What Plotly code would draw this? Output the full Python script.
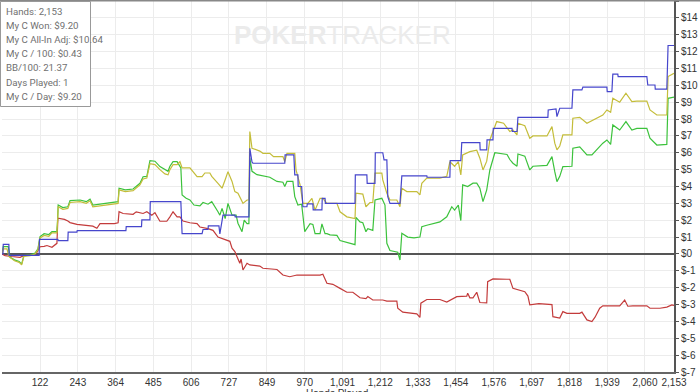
import plotly.graph_objects as go

# ---------------- data ----------------
blue_hands = [0, 3, 4, 22, 23, 119, 120, 179, 180, 211, 212, 240, 241, 397, 398, 447, 448, 474, 475, 573,
              577, 641, 644, 660, 661, 695, 698, 708, 746, 747, 791, 794, 801, 804, 906, 907, 935, 938, 948,
              949, 960, 964, 977, 978, 996, 997, 1025, 1026, 1035, 1036, 1131, 1132, 1169, 1170, 1195, 1196,
              1220, 1224, 1233, 1236, 1243, 1275, 1281, 1361, 1362, 1435, 1436, 1470, 1473, 1531, 1532, 1553,
              1554, 1573, 1574, 1634, 1635, 1650, 1653, 1749, 1750, 1775, 1778, 1787, 1826, 1829, 1858, 1861,
              1938, 1939, 1954, 1957, 1973, 1974, 2066, 2069, 2092, 2093, 2130, 2134, 2153]
blue_vals = [0, 0, 0.57, 0.57, -0.08, -0.08, 0.87, 0.87, 0.79, 0.79, 1.29, 1.29, 1.38, 1.38, 1.62, 1.62, 2.02,
             2.02, 3.1, 3.1, 1.2, 1.2, 1.45, 1.45, 1.66, 1.66, 1.19, 2.3, 2.3, 2.2, 2.2, 6.27, 5.45, 5.38, 5.38,
             5.87, 5.87, 4.69, 4.69, 4.0, 4.0, 2.8, 2.8, 2.97, 2.97, 2.61, 2.61, 3.3, 3.3, 3.0, 3.0, 4.69, 4.69,
             4.19, 4.19, 6.0, 6.0, 5.58, 5.58, 3.4, 3.0, 3.0, 4.63, 4.63, 4.55, 4.55, 5.53, 5.53, 6.6, 6.6,
             6.17, 6.17, 6.76, 6.76, 7.45, 7.45, 7.26, 7.26, 8.1, 8.1, 8.54, 8.6, 8.14, 8.64, 8.64, 9.73, 9.73,
             9.89, 9.89, 9.63, 9.63, 10.66, 10.66, 10.52, 10.52, 10.02, 10.02, 9.77, 9.77, 12.36, 12.36]

green_hands = [0, 4, 20, 26, 40, 55, 63, 70, 90, 106, 115, 122, 135, 150, 160, 176, 178, 180, 195, 211, 218,
               250, 270, 282, 291, 314, 346, 372, 375, 395, 420, 442, 452, 464, 474, 490, 506, 522, 532, 538,
               548, 561, 570, 573, 577, 590, 602, 615, 634, 644, 660, 672, 692, 698, 705, 715, 724, 737, 750,
               756, 769, 776, 785, 791, 794, 801, 817, 858, 881, 900, 906, 913, 932, 938, 948, 960, 970, 987,
               996, 1003, 1019, 1025, 1035, 1041, 1051, 1073, 1083, 1100, 1115, 1131, 1134, 1147, 1156, 1166,
               1172, 1188, 1195, 1217, 1227, 1233, 1243, 1259, 1268, 1275, 1281, 1300, 1320, 1339, 1345, 1361,
               1403, 1425, 1441, 1450, 1462, 1470, 1476, 1492, 1509, 1521, 1531, 1541, 1553, 1563, 1579, 1618,
               1627, 1637, 1650, 1653, 1675, 1691, 1701, 1746, 1762, 1771, 1778, 1787, 1797, 1826, 1829, 1851,
               1874, 1890, 1906, 1925, 1938, 1950, 1957, 1979, 1999, 2018, 2034, 2066, 2076, 2098, 2130, 2134,
               2153]
green_vals = [0, 0.43, 0.43, -0.2, -0.35, -0.45, -0.6, -0.1, -0.05, 0.05, 0.3, 1.03, 1.2, 1.15, 1.32, 1.32,
              2.0, 2.9, 2.75, 2.8, 3.16, 3.2, 3.1, 3.25, 2.9, 2.95, 3.05, 3.1, 3.9, 3.8, 3.85, 4.19, 4.58, 4.6,
              5.53, 5.5, 5.18, 5.0, 4.9, 5.2, 5.47, 5.47, 5.2, 5.1, 3.5, 3.3, 3.2, 2.9, 2.85, 3.05, 2.95, 3.1,
              2.5, 2.3, 2.7, 2.1, 3.0, 2.3, 2.3, 1.82, 1.32, 2.0, 1.8, 1.8, 5.68, 4.9, 4.7, 4.55, 4.3, 4.25, 4.0,
              4.3, 4.3, 3.4, 2.9, 2.95, 1.32, 1.8, 1.75, 1.2, 1.2, 1.78, 1.2, 1.2, 1.13, 1.1, 0.8, 0.7, 0.6,
              0.55, 2.17, 1.9, 1.85, 1.32, 1.5, 1.4, 3.2, 3.3, 2.9, 0.63, 0.2, 0.14, 0.1, -0.36, 1.23, 1.0,
              0.95, 1.0, 1.62, 1.7, 1.9, 2.2, 2.8, 2.6, 2.9, 1.98, 4.1, 4.0, 4.2, 4.2, 3.9, 3.1, 3.8, 4.98, 6.0,
              5.9, 5.6, 5.38, 5.2, 5.93, 5.8, 4.98, 5.2, 5.25, 5.77, 4.88, 4.29, 4.6, 5.18, 5.2, 6.27, 6.35,
              5.87, 5.87, 6.2, 6.57, 6.76, 6.5, 7.65, 7.35, 7.85, 7.35, 7.45, 7.45, 6.86, 6.46, 6.5, 9.23, 9.3]

olive_hands = [0, 4, 16, 22, 40, 55, 63, 70, 90, 106, 115, 122, 135, 150, 160, 176, 178, 180, 195, 211, 218,
               250, 270, 282, 291, 314, 346, 372, 375, 395, 420, 442, 452, 464, 474, 490, 506, 522, 532, 538,
               548, 561, 570, 577, 602, 625, 641, 650, 666, 672, 692, 705, 715, 724, 737, 746, 756, 772, 785,
               791, 794, 801, 826, 836, 858, 870, 900, 906, 913, 938, 942, 955, 964, 980, 993, 1003, 1019, 1028,
               1041, 1073, 1083, 1105, 1131, 1134, 1156, 1166, 1179, 1188, 1195, 1217, 1220, 1233, 1243, 1265,
               1275, 1281, 1297, 1329, 1339, 1345, 1361, 1403, 1425, 1435, 1450, 1462, 1470, 1476, 1499, 1521,
               1531, 1541, 1553, 1563, 1585, 1607, 1627, 1637, 1650, 1653, 1675, 1691, 1701, 1746, 1762, 1771,
               1778, 1787, 1797, 1826, 1829, 1851, 1874, 1906, 1925, 1938, 1950, 1957, 1979, 1999, 2018, 2034,
               2066, 2076, 2098, 2130, 2134, 2153]
olive_vals = [0, 0.3, 0.3, -0.15, -0.4, -0.5, -0.65, -0.15, -0.1, 0.0, 0.25, 0.95, 1.1, 1.05, 1.25, 1.25, 1.9,
              2.8, 2.65, 2.7, 3.05, 3.1, 3.0, 3.15, 2.8, 2.85, 2.95, 3.0, 3.8, 3.7, 3.75, 4.1, 4.45, 4.5, 5.35,
              5.3, 5.0, 4.75, 4.69, 5.0, 5.3, 5.3, 5.47, 5.1, 5.1, 4.58, 4.58, 4.8, 4.8, 4.6, 4.19, 3.9, 4.4,
              4.88, 4.3, 3.7, 3.6, 3.0, 3.2, 3.2, 7.26, 6.27, 6.1, 5.97, 5.97, 5.77, 5.77, 5.47, 5.97, 5.97,
              4.98, 4.1, 3.0, 3.0, 3.3, 2.6, 3.3, 3.3, 3.0, 3.0, 2.5, 2.2, 2.1, 3.6, 3.55, 2.8, 3.05, 3.05, 4.79,
              4.79, 4.39, 3.6, 3.2, 3.2, 2.8, 3.9, 3.7, 3.7, 3.5, 4.19, 4.5, 4.5, 4.6, 5.47, 5.2, 5.47, 4.69,
              5.87, 6.07, 6.15, 5.68, 4.98, 5.5, 6.76, 7.85, 7.75, 7.26, 7.35, 7.06, 7.75, 7.6, 6.86, 7.0, 7.0,
              7.55, 6.57, 6.17, 6.4, 7.06, 7.06, 8.05, 8.1, 7.75, 8.05, 8.24, 8.54, 8.4, 9.23, 9.0, 9.53, 9.03,
              9.06, 9.06, 8.54, 8.24, 8.24, 10.52, 10.71]

red_hands = [0, 10, 30, 58, 70, 100, 112, 122, 135, 144, 160, 170, 176, 179, 200, 211, 218, 240, 270, 291, 304,
             314, 360, 372, 375, 388, 420, 430, 452, 464, 480, 490, 506, 528, 538, 548, 561, 570, 580, 602, 625,
             634, 660, 676, 692, 710, 730, 737, 746, 753, 762, 766, 772, 785, 794, 826, 836, 881, 900, 922, 945,
             1019, 1028, 1041, 1060, 1083, 1105, 1124, 1147, 1166, 1172, 1188, 1220, 1233, 1265, 1268, 1284,
             1329, 1339, 1342, 1361, 1403, 1425, 1457, 1489, 1492, 1499, 1509, 1521, 1531, 1553, 1556, 1573,
             1618, 1627, 1637, 1650, 1675, 1685, 1691, 1720, 1755, 1762, 1765, 1787, 1797, 1810, 1851, 1858,
             1874, 1890, 1900, 1915, 1925, 1979, 1995, 2005, 2021, 2066, 2076, 2108, 2130, 2146, 2153]
red_vals = [0, -0.1, -0.15, -0.2, -0.1, -0.05, 0.1, 0.43, 0.45, 0.5, 0.4, 0.55, 0.63, 2.12, 2.05, 1.95, 1.86,
            1.75, 1.7, 1.65, 1.52, 1.8, 1.8, 1.85, 2.51, 2.4, 2.35, 2.5, 2.4, 2.5, 2.3, 2.45, 1.94, 1.94, 2.2,
            2.5, 2.2, 2.2, 1.95, 1.85, 1.8, 1.6, 1.5, 1.4, 1.0, 0.9, 0.75, 0.34, 0.14, -0.16, -0.55, -0.3,
            -0.95, -0.55, -0.65, -0.72, -0.85, -0.92, -1.25, -1.35, -1.25, -1.25, -1.2, -1.74, -1.8, -2.04,
            -2.27, -2.27, -2.6, -2.65, -2.53, -2.73, -2.73, -2.8, -2.8, -3.22, -3.45, -3.55, -3.76, -2.92, -2.7,
            -2.7, -2.85, -2.53, -2.5, -2.33, -2.6, -2.6, -2.27, -2.88, -2.9, -1.64, -1.48, -1.5, -1.5, -2.04,
            -2.1, -2.24, -2.5, -3.02, -2.95, -2.97, -3.0, -3.72, -3.8, -3.42, -3.52, -3.52, -3.45, -3.91, -4.01,
            -3.75, -3.22, -3.08, -3.08, -2.73, -3.1, -3.08, -3.08, -3.22, -3.22, -3.15, -3.02, -3.05]

x_tickvals = [122, 243, 364, 485, 606, 727, 849, 970, 1091, 1212, 1333, 1454, 1576, 1697, 1818, 1939, 2060, 2153]
x_ticktext = ["122", "243", "364", "485", "606", "727", "849", "970", "1,091", "1,212", "1,333", "1,454",
              "1,576", "1,697", "1,818", "1,939", "2,060", "2,153"]
y_tickvals = list(range(-7, 16))
y_ticktext = ["$" + str(v) for v in y_tickvals]

info_lines = ["Hands: 2,153", "My C Won: $9.20", "My C All-In Adj: $10.64", "My C / 100: $0.43",
              "BB/100: 21.37", "Days Played: 1", "My C / Day: $9.20"]

# ---------------- figure ----------------
W, H = 700, 392
ML, MR, MT, MB = 2, 26, 1, 20
PW, PH = W - ML - MR, H - MT - MB


def px_x(px):
    return (px - ML) / PW


def px_y(py):
    return (H - MB - py) / PH


fig = go.Figure()
series = [
    (red_hands, red_vals, "#c33b3b"),
    (green_hands, green_vals, "#3cc23c"),
    (olive_hands, olive_vals, "#c4bd3a"),
    (blue_hands, blue_vals, "#4646cc"),
]
for hx, hv, col in series:
    fig.add_trace(go.Scatter(x=hx, y=hv, mode="lines", line=dict(color=col, width=1.2),
                             hoverinfo="skip", showlegend=False))

tick_font = dict(family="Liberation Sans, Arial, sans-serif", size=10, color="#333333")

fig.update_layout(
    width=W, height=H,
    margin=dict(l=ML, r=MR, t=MT, b=MB, autoexpand=False),
    paper_bgcolor="white", plot_bgcolor="white",
    showlegend=False,
    xaxis=dict(range=[0, 2153], tickvals=x_tickvals, ticktext=x_ticktext, showgrid=True,
               gridcolor="#ececec", gridwidth=1, showline=True, linecolor="#666666", linewidth=2,
               ticks="", tickfont=tick_font, zeroline=False, automargin=False),
    yaxis=dict(range=[-7, 15], side="right", tickvals=y_tickvals, ticktext=y_ticktext, showgrid=True,
               gridcolor="#ececec", gridwidth=1, showline=True, linecolor="#555555", linewidth=2,
               ticks="outside", ticklen=3, tickcolor="#555555", tickfont=tick_font,
               zeroline=True, zerolinecolor="#555555", zerolinewidth=2, automargin=False),
)

# watermark
fig.add_annotation(xref="paper", yref="paper", x=px_x(232), y=px_y(35), xanchor="left", yanchor="middle",
                   text="<b>POKER</b>TRACKER", showarrow=False,
                   font=dict(family="Liberation Sans Narrow, Liberation Sans, Arial", size=26, color="#ebebeb"))

# top border
fig.add_shape(type="line", xref="paper", yref="paper", x0=px_x(0), x1=px_x(700), y0=px_y(0.5), y1=px_y(0.5),
              line=dict(color="#888888", width=2), layer="above")

# info box
fig.add_shape(type="rect", xref="paper", yref="paper", x0=px_x(0.5), x1=px_x(90.5), y0=px_y(1.5), y1=px_y(106.5),
              line=dict(color="#999999", width=1), fillcolor="white", layer="above")
for i, t in enumerate(info_lines):
    fig.add_annotation(xref="paper", yref="paper", x=px_x(4), y=px_y(11 + 14.2 * i), xanchor="left",
                       yanchor="middle", text=t, showarrow=False,
                       font=dict(family="Roboto, Arial", size=9.7, color="#707070"))

# x-axis title (cut off at bottom, as in the original)
fig.add_annotation(xref="paper", yref="paper", x=px_x(337), y=px_y(386), xanchor="center", yanchor="top",
                   text="Hands Played", showarrow=False, font=dict(family="Liberation Sans, Arial", size=10, color="#333333"))

fig.write_html("out.html", config={"displayModeBar": False},
               post_script="document.body.style.margin='0';document.body.style.overflow='hidden';")
